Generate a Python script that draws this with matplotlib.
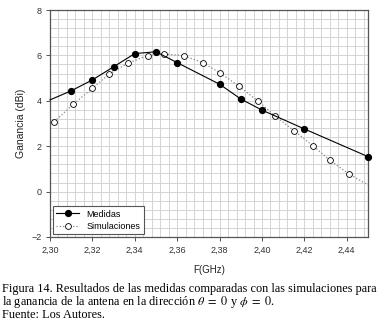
import matplotlib
matplotlib.use("Agg")
import matplotlib.pyplot as plt
from matplotlib.ticker import MultipleLocator, FuncFormatter

# Data
med_f = [2.30, 2.31, 2.32, 2.33, 2.34, 2.35, 2.36, 2.38, 2.39, 2.40, 2.42, 2.45]
med_g = [4.04, 4.44, 4.92, 5.50, 6.08, 6.16, 5.68, 4.73, 4.08, 3.59, 2.76, 1.54]

sim_f = [2.302, 2.311, 2.320, 2.328, 2.337, 2.346, 2.354, 2.363, 2.372, 2.380,
         2.389, 2.398, 2.406, 2.415, 2.424, 2.432, 2.441, 2.450]
sim_g = [3.08, 3.85, 4.55, 5.18, 5.67, 5.99, 6.06, 5.99, 5.68, 5.24,
         4.65, 4.00, 3.34, 2.69, 2.02, 1.38, 0.78, 0.29]

x_ticks = [2.30, 2.32, 2.34, 2.36, 2.38, 2.40, 2.42, 2.44]
y_ticks = [-2, 0, 2, 4, 6, 8]

plt.rcParams['font.family'] = ['Liberation Sans', 'DejaVu Sans']
plt.rcParams['mathtext.fontset'] = 'stix'

fig = plt.figure(figsize=(3.82, 3.27), dpi=100)
ax = fig.add_axes([50/382, 1-237/327, (368-50)/382, (237-10)/327])

ax.set_xlim(2.30, 2.45)
ax.set_ylim(-2, 8)
ax.set_xticks(x_ticks)
ax.set_yticks(y_ticks)
ax.xaxis.set_minor_locator(MultipleLocator(0.004))
ax.yaxis.set_minor_locator(MultipleLocator(0.4))
ax.xaxis.set_major_formatter(FuncFormatter(lambda v, p: f"{v:.2f}".replace('.', ',')))
ax.grid(which='both', color='#d4d4d4', linewidth=0.7)
ax.set_axisbelow(True)
ax.tick_params(which='major', direction='out', length=3, width=0.6, labelsize=6.5, colors='#333333', pad=3)
ax.tick_params(which='minor', length=0)
for s in ax.spines.values():
    s.set_color('#555555')
    s.set_linewidth(0.9)

ax.plot(sim_f, sim_g, linestyle=':', color='#888888', linewidth=0.9,
        marker='o', markersize=4.2, markerfacecolor='white', markeredgecolor='black',
        markeredgewidth=0.6, markevery=list(range(len(sim_f)-1)), label='Simulaciones', zorder=3)
ax.plot(med_f, med_g, linestyle='-', color='black', linewidth=0.8,
        marker='o', markersize=4.2, markerfacecolor='black', markeredgecolor='black',
        markevery=list(range(1, len(med_f))), label='Medidas', zorder=4, clip_on=False)

h, l = ax.get_legend_handles_labels()
leg = ax.legend([h[1], h[0]], [l[1], l[0]], loc='lower left', fontsize=6.5, frameon=True,
                fancybox=False, edgecolor='#555555', framealpha=1, borderaxespad=0.3,
                handlelength=2.5, labelspacing=0.35)
leg.get_frame().set_linewidth(0.8)

ax.set_xlabel('F(GHz)', fontsize=7, color='#222222', labelpad=8)
ax.set_ylabel('Ganancia (dBi)', fontsize=7.5, color='#222222', labelpad=4)

serif = ['Liberation Serif', 'DejaVu Serif']
fs = 8.8
fig.text(2/382, 1-289/327, 'Figura 14. Resultados de las medidas comparadas con las simulaciones para',
         family=serif, fontsize=fs, va='center', ha='left')
fig.text(2/382, 1-302/327, r'la ganancia de la antena en la dirección $\theta\ =\ 0$ y $\phi\ =\ 0$.',
         family=serif, fontsize=fs, va='center', ha='left')
fig.text(2/382, 1-315/327, 'Fuente: Los Autores.',
         family=serif, fontsize=fs, va='center', ha='left')

fig.savefig('out.png', dpi=100)
